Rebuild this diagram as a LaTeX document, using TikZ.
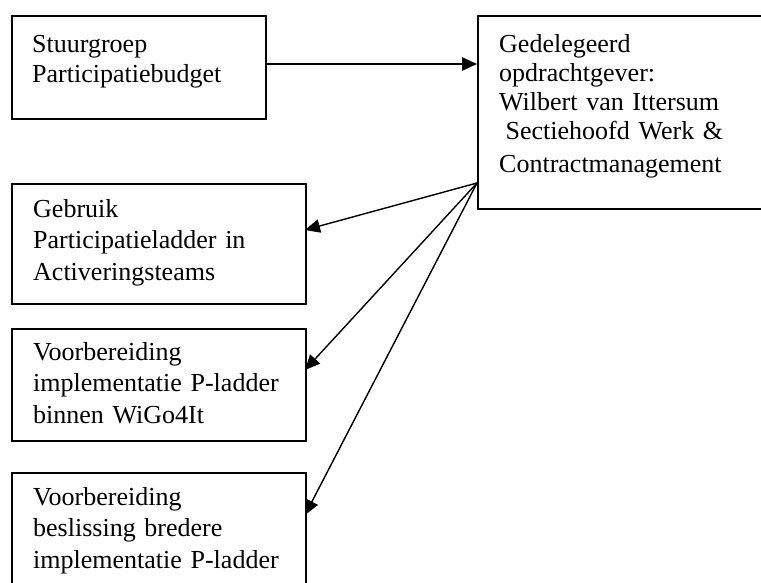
\documentclass[tikz,border=0pt]{standalone}
\usepackage{fontspec}
\setmainfont{Liberation Serif}
\usetikzlibrary{arrows.meta}
\begin{document}
\begin{tikzpicture}[x=1pt,y=-1pt,
  box/.style={draw, line width=1.8pt, anchor=north west, inner sep=0pt},
  txt/.style={anchor=base west, inner sep=0pt, align=left, text width=290pt},
  arr/.style={line width=1.4pt, -{Triangle[length=15pt,width=13.5pt]}}]
\useasboundingbox (0,0) rectangle (761,582);
\fill[white] (0,0) rectangle (761,582);
\clip (0,0) rectangle (761,582);
% boxes
\node[box, minimum width=254pt, minimum height=103pt] (b1) at (11,15) {};
\node[box, minimum width=300pt, minimum height=193pt] (b2) at (477,15) {};
\node[box, minimum width=294pt, minimum height=120pt] (b3) at (11,183) {};
\node[box, minimum width=294pt, minimum height=112pt] (b4) at (11,328) {};
\node[box, minimum width=294pt, minimum height=140pt] (b5) at (11,472) {};
% texts
\node[txt, font=\fontsize{26}{30}\selectfont] (t1) at (32,52) {Stuurgroep\\Participatiebudget};
\node[txt, font=\fontsize{26}{29}\selectfont] (t2) at (499,52) {Gedelegeerd\\opdrachtgever:\\Wilbert van Ittersum\\\hspace*{6.5pt}Sectiehoofd Werk \&\\[4pt]Contractmanagement};
\node[txt, font=\fontsize{26}{31.5}\selectfont] (t3) at (33,217) {Gebruik\\Participatieladder in\\Activeringsteams};
\node[txt, font=\fontsize{26}{31.5}\selectfont] (t4) at (33,360) {Voorbereiding\\implementatie P-ladder\\binnen WiGo4It};
\node[txt, font=\fontsize{26}{31.5}\selectfont] (t5) at (33,505) {Voorbereiding\\beslissing bredere\\implementatie P-ladder};
% connectors
\coordinate (src) at (477,183);
\coordinate (e1) at (265,64);
\coordinate (e3) at (305,230);
\coordinate (e4) at (305,370);
\coordinate (e5) at (305,515);
\draw[arr] (e1) -- (e1 -| b2.west);
\draw[arr] (src) -- (e3);
\draw[arr] (src) -- (e4);
\draw[arr] (src) -- (e5);
\end{tikzpicture}
\end{document}
